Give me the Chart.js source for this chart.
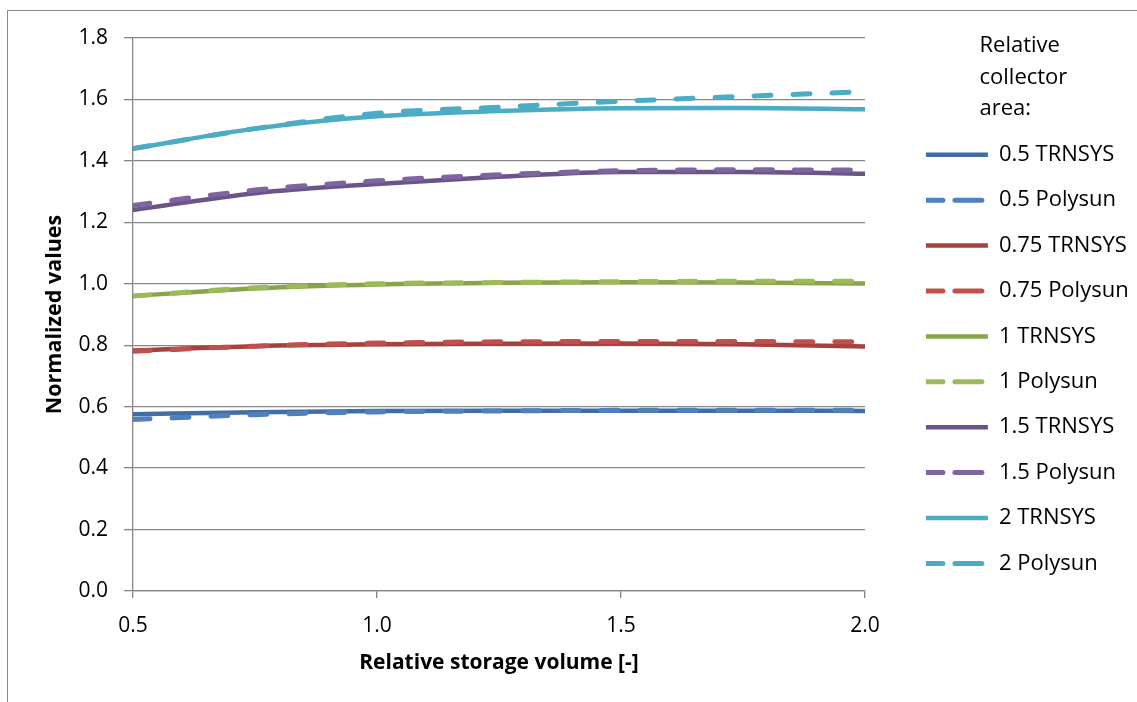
<!DOCTYPE html>
<html>
<head>
<meta charset="utf-8">
<script src="https://cdn.jsdelivr.net/npm/chart.js@4.4.1/dist/chart.umd.min.js"></script>
<style>
  body { margin: 0; background: #fff; }
  .frame { position: absolute; left: 7px; top: 10px; width: 1130px; height: 692px;
           border-left: 1px solid #898989; border-top: 1px solid #898989; }
  canvas { position: absolute; left: 0; top: 0; }
</style>
</head>
<body>
<div class="frame"></div>
<canvas id="storageChart" width="1137" height="702"></canvas>
<script>
// relative storage volume
const volumes = [0.5, 0.75, 1.0, 1.25, 1.5, 1.75, 2.0];

const trnsys05  = [0.575, 0.582, 0.586, 0.587, 0.587, 0.587, 0.586];
const polysun05 = [0.558, 0.574, 0.583, 0.586, 0.588, 0.588, 0.588];
const trnsys075  = [0.783, 0.797, 0.803, 0.805, 0.806, 0.803, 0.796];
const polysun075 = [0.780, 0.797, 0.807, 0.811, 0.812, 0.812, 0.811];
const trnsys1  = [0.960, 0.985, 0.998, 1.003, 1.005, 1.004, 1.001];
const polysun1 = [0.960, 0.987, 1.000, 1.004, 1.007, 1.008, 1.008];
const trnsys15  = [1.240, 1.295, 1.325, 1.348, 1.364, 1.364, 1.358];
const polysun15 = [1.255, 1.305, 1.335, 1.355, 1.368, 1.371, 1.370];
const trnsys2  = [1.440, 1.505, 1.545, 1.562, 1.571, 1.572, 1.568];
const polysun2 = [1.440, 1.505, 1.555, 1.575, 1.594, 1.610, 1.625];

const seriesNames = ['0.5 TRNSYS', '0.5 Polysun', '0.75 TRNSYS', '0.75 Polysun', '1 TRNSYS',
                     '1 Polysun', '1.5 TRNSYS', '1.5 Polysun', '2 TRNSYS', '2 Polysun'];
const seriesValues = [trnsys05, polysun05, trnsys075, polysun075, trnsys1,
                      polysun1, trnsys15, polysun15, trnsys2, polysun2];
const seriesColors = ['#416EA6', '#4F81BD', '#A5413E', '#C0504D', '#88A54E',
                      '#9BBB59', '#6B5488', '#8064A2', '#4AACC5', '#4BACC6'];
const legendTitle = ['Relative', 'collector', 'area:'];

const FONT = "'Open Sans', sans-serif";

const datasets = seriesNames.map((name, i) => {
  const dashed = name.includes('Polysun');
  return {
    label: name,
    data: seriesValues[i].map((v, j) => ({ x: volumes[j], y: v })),
    borderColor: seriesColors[i],
    backgroundColor: seriesColors[i],
    borderWidth: dashed ? 5 : 4.5,
    borderDash: dashed ? [17, 22] : [],
    borderCapStyle: 'round',
    pointRadius: 0,
    cubicInterpolationMode: 'monotone',
    order: dashed ? 0 : 1
  };
});

// draws the three-line legend heading
const legendHeading = {
  id: 'legendHeading',
  afterDraw(chart) {
    const lg = chart.legend;
    const ctx = chart.ctx;
    ctx.save();
    ctx.font = '22px ' + FONT;
    ctx.fillStyle = '#000';
    ctx.textBaseline = 'alphabetic';
    legendTitle.forEach((t, i) => ctx.fillText(t, lg.left + 77, 52 + i * 31.5));
    ctx.restore();
  }
};

new Chart(document.getElementById('storageChart').getContext('2d'), {
  type: 'line',
  data: { datasets },
  plugins: [legendHeading],
  options: {
    responsive: false,
    animation: false,
    layout: { padding: { top: 38, left: 0, right: 1.5, bottom: 0 } },
    plugins: {
      tooltip: { enabled: false },
      legend: {
        position: 'right',
        align: 'start',
        maxWidth: 233,
        title: { display: true, text: '', font: { size: 22, family: FONT }, padding: { top: 0, bottom: 56 } },
        labels: {
          boxWidth: 62, boxHeight: 0, padding: 23.4,
          color: '#000', font: { size: 22, family: FONT },
          sort: (a, b) => a.datasetIndex - b.datasetIndex
        }
      }
    },
    scales: {
      x: {
        type: 'linear', min: 0.5, max: 2.0,
        grid: { drawOnChartArea: false, color: '#868686', lineWidth: 1.3, tickLength: 7 },
        border: { color: '#868686', width: 1.3 },
        ticks: { stepSize: 0.5, color: '#000', font: { size: 21, family: FONT }, padding: 15,
                 callback: v => v.toFixed(1) },
        title: { display: true, text: 'Relative storage volume [-]', color: '#000',
                 font: { size: 21, weight: 'bold', family: FONT }, padding: { top: 0, bottom: 26 } },
        afterFit: s => { s.height = 111; }
      },
      y: {
        min: 0, max: 1.8,
        grid: { color: '#868686', lineWidth: 1.3, tickLength: 9 },
        border: { color: '#868686', width: 1.3 },
        ticks: { stepSize: 0.2, color: '#000', font: { size: 21, family: FONT }, padding: 16,
                 callback: v => v.toFixed(1) },
        title: { display: true, text: 'Normalized values', color: '#000',
                 font: { size: 21.5, weight: 'bold', family: FONT }, padding: { top: 42, bottom: 0 } },
        afterFit: s => { s.width = 133; }
      },
      // empty spacer between plot and legend
      gap: {
        type: 'linear', position: 'right', display: true,
        grid: { display: false }, border: { display: false }, ticks: { display: false },
        afterFit: s => { s.width = 37.5; }
      }
    }
  }
});
</script>
</body>
</html>
